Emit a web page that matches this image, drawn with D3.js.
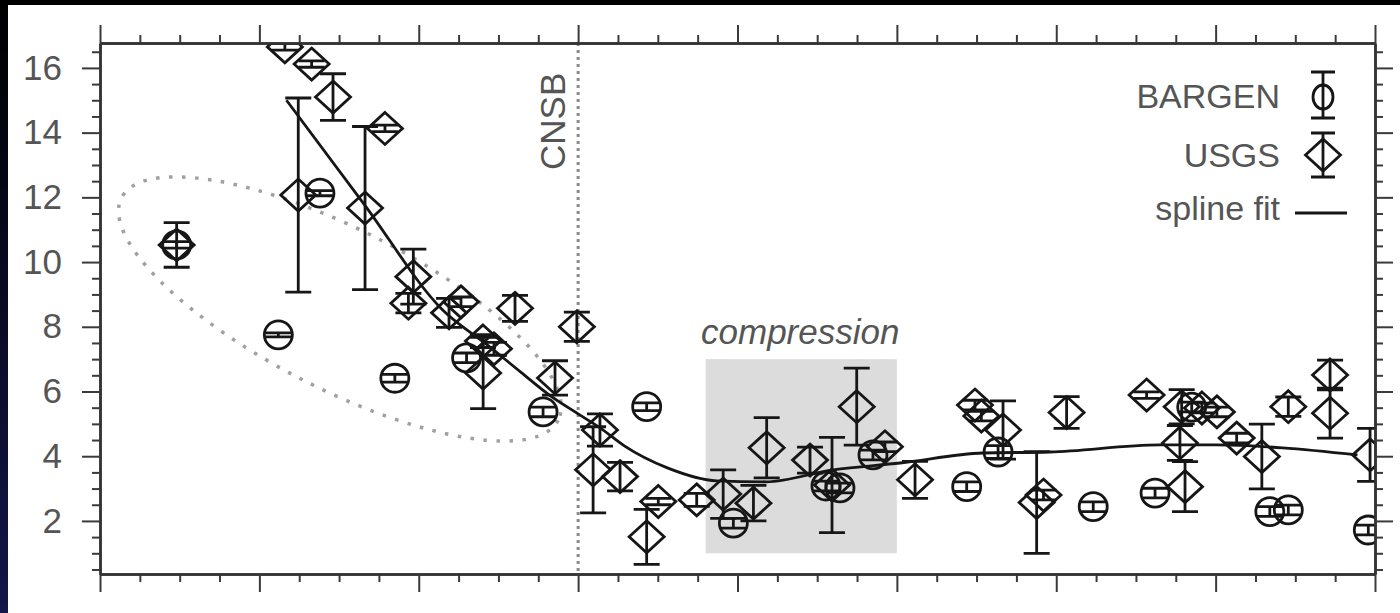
<!DOCTYPE html>
<html>
<head>
<meta charset="utf-8">
<script src="https://cdn.jsdelivr.net/npm/d3@7"></script>
<style>
  html, body { margin: 0; padding: 0; background: #000; overflow: hidden; }
  svg { display: block; }
  text { font-family: "Liberation Sans", Arial, Helvetica, sans-serif; }
</style>
</head>
<body>
<svg id="chart" width="1400" height="613"></svg>
<script>
// data (x: distance along profile, y: rate)

const BARGEN_X   = [48.1, 111.9, 138, 185, 230, 278, 343, 397.4, 455.5, 464.3, 485, 543.8, 563.5, 623.2, 662, 685, 734, 745.6, 795.8]
const BARGEN_Y   = [10.53, 7.75, 12.13, 6.41, 7.04, 5.37, 5.53, 1.93, 3.08, 3.02, 4.04, 3.06, 4.13, 2.44, 2.86, 5.52, 2.29, 2.34, 1.72]
const BARGEN_ERR = [0.1, 0.06, 0.08, 0.12, 0.15, 0.15, 0.12, 0.15, 0.15, 0.15, 0.15, 0.15, 0.2, 0.15, 0.15, 0.15, 0.15, 0.15, 0.15]

const USGS_X = [48.1, 116, 124.4, 132.8, 146.2, 166.3, 178.8, 193.5, 196.6, 219, 226.5, 240.3, 247.2, 240.4,
                260.4, 285.5, 299.2, 313.7, 309.4, 326.3, 343, 350.3, 374.4, 391, 410, 418.3, 445.5, 459.3,
                474.8, 492.5, 511.4, 549, 553, 566.6, 587.7, 592, 606.5, 656.7, 678.7, 691.4, 700.8, 677.6,
                680.8, 713.2, 729, 745.6, 771.8, 771.8, 796.9]
const USGS_Y = [10.53, 16.65, 12.07, 16.12, 15.1, 11.67, 14.13, 8.73, 9.55, 8.43, 8.77, 7.56, 7.32, 6.57,
                8.57, 6.42, 8.0, 4.81, 3.58, 3.37, 1.51, 2.6, 2.65, 2.83, 2.55, 4.26, 3.88, 3.11,
                5.53, 4.29, 3.27, 5.58, 5.24, 4.81, 2.57, 2.8, 5.35, 5.89, 5.53, 5.49, 5.37, 4.41,
                3.06, 4.56, 3.99, 5.53, 6.51, 5.33, 4.04]
const USGS_ERR = [0.69, 0.1, 3.0, 0.1, 0.72, 2.52, 0.1, 0.3, 0.85, 0.45, 0.15, 0.2, 0.2, 1.1,
                  0.4, 0.53, 0.45, 0.5, 1.33, 0.44, 0.85, 0.1, 0.2, 0.75, 0.55, 0.93, 0.4, 1.47,
                  1.19, 0.15, 0.57, 0.15, 0.15, 0.9, 1.57, 0.15, 0.49, 0.1, 0.53, 0.15, 0.15, 0.54,
                  0.77, 0.15, 1.0, 0.3, 0.46, 0.77, 0.82]

const SPLINE_X = [117, 166, 215, 243, 264, 282, 300, 314, 329, 356, 387, 418, 460, 502, 554, 596, 665, 701, 742, 789]
const SPLINE_Y = [15.0, 11.77, 8.52, 7.44, 6.6, 5.89, 5.31, 4.87, 4.32, 3.64, 3.24, 3.21, 3.58, 3.79, 4.10, 4.13, 4.35, 4.35, 4.26, 4.04]

const X_DOMAIN = [0, 800]
const Y_DOMAIN = [0.36, 16.77]
const Y_LABELS = [2, 4, 6, 8, 10, 12, 14, 16]

const CNSB_X = 300
const COMPRESSION = { x0: 380, x1: 500, y0: 1, y1: 7 }
const ELLIPSE = { cx: 150.5, cy: 8.55 }       // centre in data units

const LEGEND = ['BARGEN', 'USGS', 'spline fit']

// layout

const W = 1400, H = 613
const M = { top: 43, left: 100, right: 25, bottom: 39 }
const INK = '#161616'
const GREY_TEXT = '#555'
const LW = 2.8

const svg = d3.select('#chart')

let x = d3.scaleLinear().domain(X_DOMAIN).range([M.left, W - M.right])
let y = d3.scaleLinear().domain(Y_DOMAIN).range([H - M.bottom, M.top])

// the photo frame: black top, dark blue strip on the left
let defs = svg.append('defs')
let grad = defs.append('linearGradient').attr('id', 'edge').attr('x1', 0).attr('y1', 0).attr('x2', 0).attr('y2', 1)
grad.append('stop').attr('offset', '0%').attr('stop-color', '#000')
grad.append('stop').attr('offset', '100%').attr('stop-color', '#121648')
defs.append('clipPath').attr('id', 'plot-clip')
  .append('rect')
  .attr('x', M.left).attr('y', M.top)
  .attr('width', W - M.left - M.right).attr('height', H - M.top - M.bottom)

svg.append('rect').attr('width', W).attr('height', H).attr('fill', '#000')
svg.append('rect').attr('x', 0).attr('y', 0).attr('width', 8).attr('height', H).attr('fill', 'url(#edge)')
svg.append('rect').attr('x', 8).attr('y', 5).attr('width', W - 8).attr('height', H - 5).attr('fill', '#fff')

let plot = svg.append('g').attr('clip-path', 'url(#plot-clip)')

// compression box
plot.append('rect')
  .attr('x', x(COMPRESSION.x0)).attr('y', y(COMPRESSION.y1))
  .attr('width', x(COMPRESSION.x1) - x(COMPRESSION.x0))
  .attr('height', y(COMPRESSION.y0) - y(COMPRESSION.y1))
  .attr('fill', '#dcdcdc')

svg.append('text')
  .attr('x', x((COMPRESSION.x0 + COMPRESSION.x1) / 2) - 1).attr('y', y(COMPRESSION.y1) - 15)
  .attr('text-anchor', 'middle').attr('font-style', 'italic')
  .attr('font-size', 35).attr('fill', GREY_TEXT)
  .text('compression')

// CNSB boundary
plot.append('line')
  .attr('x1', x(CNSB_X)).attr('x2', x(CNSB_X))
  .attr('y1', M.top).attr('y2', H - M.bottom)
  .attr('stroke', '#8a8a8a').attr('stroke-width', 3).attr('stroke-dasharray', '3 4')

svg.append('text')
  .attr('transform', 'translate(' + (x(CNSB_X) - 13) + ',' + y(14.35) + ') rotate(-90)')
  .attr('text-anchor', 'middle').attr('font-size', 35).attr('fill', GREY_TEXT)
  .text('CNSB')

// dotted outline round the western group
plot.append('ellipse')
  .attr('cx', x(ELLIPSE.cx)).attr('cy', y(ELLIPSE.cy))
  .attr('rx', 245).attr('ry', 80)
  .attr('transform', 'rotate(27,' + x(ELLIPSE.cx) + ',' + y(ELLIPSE.cy) + ')')
  .attr('fill', 'none').attr('stroke', '#a0a0a0').attr('stroke-width', 3.5)
  .attr('stroke-dasharray', '3.5 9.5')

// spline fit
let line = d3.line().x((d) => x(d[0])).y((d) => y(d[1])).curve(d3.curveMonotoneX)
plot.append('path')
  .attr('d', line(d3.zip(SPLINE_X, SPLINE_Y)))
  .attr('fill', 'none').attr('stroke', INK).attr('stroke-width', LW)

// markers with error bars
const CAP = 13
function errorbars(g, xs, ys, es) {
  g.selectAll('g.eb').data(d3.range(xs.length)).join('g')
    .attr('class', 'eb')
    .each(function(i) {
      let s = d3.select(this)
      let px = x(xs[i]), lo = y(ys[i] - es[i]), hi = y(ys[i] + es[i])
      s.append('path')
        .attr('d', 'M' + px + ',' + lo + 'V' + hi +
                   'M' + (px - CAP) + ',' + lo + 'H' + (px + CAP) +
                   'M' + (px - CAP) + ',' + hi + 'H' + (px + CAP))
        .attr('fill', 'none').attr('stroke', INK).attr('stroke-width', LW)
    })
}

function diamond(cx, cy) {
  return 'M' + cx + ',' + (cy - 16) + 'L' + (cx + 17.5) + ',' + cy +
         'L' + cx + ',' + (cy + 16) + 'L' + (cx - 17.5) + ',' + cy + 'Z'
}

let usgs = plot.append('g')
errorbars(usgs, USGS_X, USGS_Y, USGS_ERR)
usgs.selectAll('path.dia').data(d3.range(USGS_X.length)).join('path')
  .attr('class', 'dia')
  .attr('d', (i) => diamond(x(USGS_X[i]), y(USGS_Y[i])))
  .attr('fill', 'none').attr('stroke', INK).attr('stroke-width', LW)

let bargen = plot.append('g')
errorbars(bargen, BARGEN_X, BARGEN_Y, BARGEN_ERR)
bargen.selectAll('circle').data(d3.range(BARGEN_X.length)).join('circle')
  .attr('cx', (i) => x(BARGEN_X[i])).attr('cy', (i) => y(BARGEN_Y[i])).attr('r', 14)
  .attr('fill', 'none').attr('stroke', INK).attr('stroke-width', LW)

// axes: majors every 100 / 2, minors every 25 / 0.5
let xMajor = d3.range(X_DOMAIN[0], X_DOMAIN[1] + 1, 100)
let xMinor = d3.range(25, X_DOMAIN[1], 25).filter((d) => d % 100)
let yMinor = d3.range(0.5, 16.6, 0.5).filter((d) => d % 2)

function styleAxis(g) {
  g.select('.domain').attr('stroke', '#333').attr('stroke-width', 2.5)
  g.selectAll('.tick line').attr('stroke', '#3a3a3a').attr('stroke-width', 2)
  g.selectAll('.tick text').attr('fill', GREY_TEXT).attr('font-size', 35)
    .attr('font-family', '"Liberation Sans", Arial, sans-serif')
}

let axes = [
  [d3.axisBottom, 'translate(0,' + (H - M.bottom) + ')', x, xMajor, xMinor, false],
  [d3.axisTop, 'translate(0,' + M.top + ')', x, xMajor, xMinor, false],
  [d3.axisLeft, 'translate(' + M.left + ',0)', y, Y_LABELS, yMinor, true],
  [d3.axisRight, 'translate(' + (W - M.right) + ',0)', y, Y_LABELS, yMinor, false]
]
axes.forEach(([make, tr, scale, major, minor, labels]) => {
  svg.append('g').attr('transform', tr)
    .call(make(scale).tickValues(minor).tickSize(8).tickSizeOuter(0).tickFormat(''))
    .call(styleAxis)
  svg.append('g').attr('transform', tr)
    .call(make(scale).tickValues(major).tickSize(18).tickSizeOuter(0).tickPadding(20)
            .tickFormat(labels ? d3.format('d') : ''))
    .call(styleAxis)
})

// legend (top right, text right aligned against the symbols)
let lg = svg.append('g')
let lx = 1280, mx = 1323
lg.selectAll('text').data(LEGEND).join('text')
  .attr('x', lx).attr('y', (d, i) => [108, 167, 220][i])
  .attr('text-anchor', 'end').attr('font-size', 34).attr('fill', GREY_TEXT)
  .text((d) => d)
lg.append('path')
  .attr('d', 'M' + mx + ',72V118M' + (mx - 12) + ',72H' + (mx + 12) + 'M' + (mx - 12) + ',118H' + (mx + 12) +
             'M' + mx + ',133V177M' + (mx - 12) + ',133H' + (mx + 12) + 'M' + (mx - 12) + ',177H' + (mx + 12))
  .attr('fill', 'none').attr('stroke', INK).attr('stroke-width', LW)
lg.append('ellipse').attr('cx', mx).attr('cy', 97).attr('rx', 10).attr('ry', 12)
  .attr('fill', 'none').attr('stroke', INK).attr('stroke-width', LW)
lg.append('path').attr('d', diamond(mx, 155))
  .attr('fill', 'none').attr('stroke', INK).attr('stroke-width', LW)
lg.append('line').attr('x1', 1295).attr('x2', 1347).attr('y1', 213).attr('y2', 213)
  .attr('stroke', INK).attr('stroke-width', LW)
</script>
</body>
</html>
